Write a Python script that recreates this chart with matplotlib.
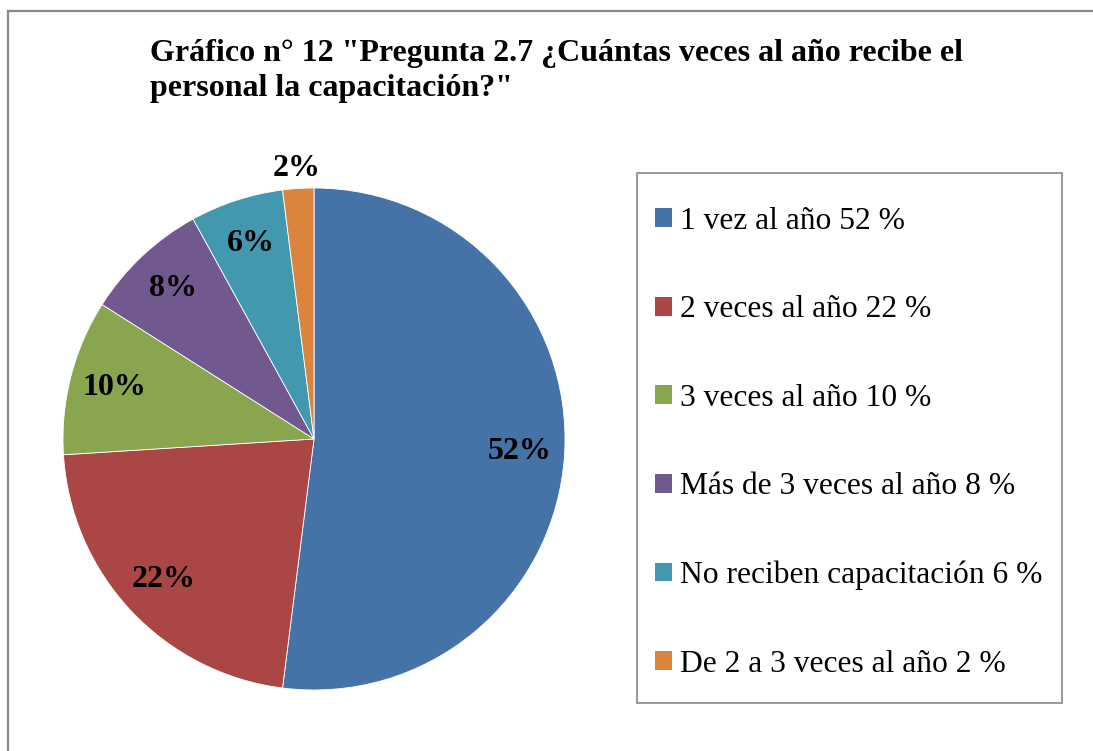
import matplotlib
matplotlib.use("Agg")
import matplotlib.pyplot as plt
from matplotlib.patches import Patch
from matplotlib.lines import Line2D
import numpy as np

categories = ["1 vez al año 52 %", "2 veces al año 22 %", "3 veces al año 10 %",
              "Más de 3 veces al año 8 %", "No reciben capacitación 6 %",
              "De 2 a 3 veces al año 2 %"]
values = [52, 22, 10, 8, 6, 2]
colors = ["#4572A7", "#AA4643", "#89A54E", "#71588F", "#4198AF", "#DB843D"]
title = 'Gráfico n° 12 "Pregunta 2.7 ¿Cuántas veces al año recibe el\npersonal la capacitación?"'

plt.rcParams['font.family'] = ['Liberation Serif', 'DejaVu Serif']

W, H = 1093, 751
fig = plt.figure(figsize=(W / 100, H / 100), dpi=100)

# outer frame (left and top visible)
fig.add_artist(Line2D([8 / W, 8 / W], [0, 1 - 11 / H], transform=fig.transFigure,
                      color="#888888", lw=1.6))
fig.add_artist(Line2D([8 / W, 1], [1 - 11 / H, 1 - 11 / H], transform=fig.transFigure,
                      color="#888888", lw=1.6))

cx, cy, r = 314, 439, 251
ax = fig.add_axes([(cx - r) / W, (H - cy - r) / H, 2 * r / W, 2 * r / H])
wedges, texts, autotexts = ax.pie(values, colors=colors, startangle=90, counterclock=False,
                                  autopct=lambda p: f"{p:.0f}%", pctdistance=0.82,
                                  wedgeprops=dict(edgecolor="white", linewidth=0.6),
                                  textprops=dict(fontsize=23, fontweight="bold", color="black"))
# small slice label outside
w = wedges[-1]
ang = np.deg2rad((w.theta1 + w.theta2) / 2)
autotexts[-1].set_position((1.08 * np.cos(ang), 1.08 * np.sin(ang)))
ax.set_xlim(-1, 1)
ax.set_ylim(-1, 1)
ax.set_aspect("equal")
ax.axis("off")

fig.text(150 / W, 1 - 39 / H, title, fontsize=23, fontweight="bold", va="top", ha="left",
         linespacing=1.27)

# legend frame
lx0, ly0, lx1, ly1 = 637, 173, 1062, 703
fig.add_artist(plt.Rectangle((lx0 / W, 1 - ly1 / H), (lx1 - lx0) / W, (ly1 - ly0) / H,
                             transform=fig.transFigure, fill=False, edgecolor="#888888", lw=1.2))
handles = [Patch(facecolor=c, edgecolor="none") for c in colors]
leg = fig.legend(handles, categories, loc="upper left", bbox_to_anchor=(655 / W, 1 - 207 / H),
                 frameon=False, fontsize=22.7, borderpad=0, borderaxespad=0,
                 handlelength=0.54, handleheight=0.54, handletextpad=0.25, labelspacing=1.885)

fig.savefig("out.png", dpi=100)
